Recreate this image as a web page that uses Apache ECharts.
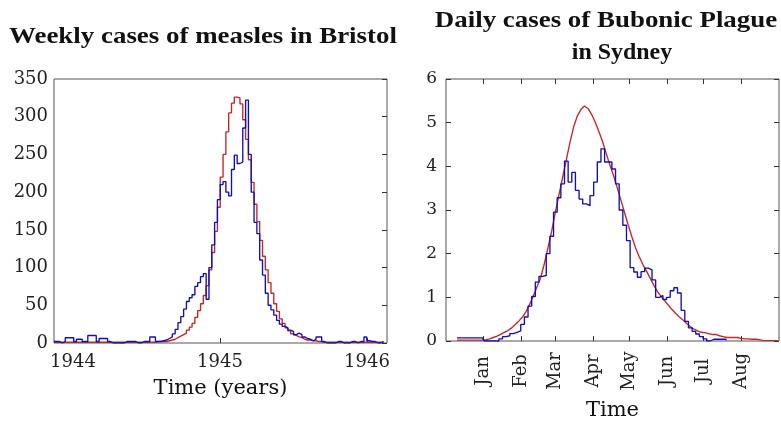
<!DOCTYPE html>
<html><head><meta charset="utf-8">
<script src="https://cdn.jsdelivr.net/npm/echarts@6/dist/echarts.min.js"></script>
<style>html,body{margin:0;padding:0;background:#fff}#c{width:781px;height:426px}</style>
</head><body><div id="c"></div>
<script>
// ---------- Left panel: weekly measles cases, Bristol ----------
const measlesStartYear = 1943.871;
const weekInYears = 7 / 365.25;
const measlesObserved = [
  2,2,0,2,7,7,7,2,5,5, 2,2,10,10,10,2,6,6,6,2, 0,0,0,0,0,2,2,2,2,0, 0,2,2,2,8,8,2,2,3,4,
  6,8,12,18,27,35,45,55,60,64, 75,80,88,92,58,100,130,160,190,210, 214,200,195,230,249,238,240,285,322,250,
  200,160,145,110,90,66,50,44,37,30, 25,22,20,17,15,11,13,11,8,6, 5,3,5,8,8,2,0,0,0,0,
  2,2,0,0,0,2,2,0,2,2, 8,3,2,2,0,0,2,2
];
const measlesModel = [
  1,1,1,1,1,1,1,1,1,1, 1,1,1,1,1,1,1,1,1,1, 1,1,1,1,1,1,1,1,1,1, 1,1,1,1,1,1,2,2,2,2,
  3,4,5,7,9,11,13,17,21,26, 34,43,52,63,76,97,120,148,180,220, 250,280,305,318,326,325,317,296,270,243,
  213,184,161,136,115,97,80,66,52,42, 32,26,20,16,12,10,8,7,5,4, 4,3,3,2,2,1,1,1,1,1,
  1,1,1,1,1,1,1,1,1,1, 1,1,1,1,1,1,1,1
];
const yearTicks = [1944, 1945, 1946];

// ---------- Right panel: daily bubonic plague cases, Sydney ----------
const plagueStartDay = -22;   // days from 1 January
const plagueStepDays = 3;
const plagueObserved = [
  0.07,0.07,0.07,0.07,0.07,0.07,0.07,0.07,0,0,
  0,0,0.05,0.1,0.12,0.17,0.2,0.23,0.38,0.55,
  0.8,1.02,1.35,1.48,1.5,2.0,2.4,2.95,3.28,3.6,
  4.12,3.64,3.86,3.45,3.25,3.14,3.1,3.33,3.64,4.1,
  4.4,4.1,4.1,3.94,3.6,3.0,2.65,2.3,1.68,1.58,
  1.46,1.59,1.67,1.63,1.4,1.0,1.04,0.95,1.0,1.15,
  1.22,1.1,0.7,0.45,0.3,0.22,0.16,0.1,0.05,0,
  0.04,0.04,0.04,0.04,0.03
];
const plagueModel = [
  0.02,0.02,0.02,0.02,0.02,0.02,0.02,0.02,0.03,0.05,
  0.08,0.11,0.15,0.2,0.24,0.3,0.38,0.46,0.55,0.68,
  0.85,1.04,1.25,1.46,1.78,2.15,2.52,2.95,3.35,3.75,
  4.15,4.55,4.9,5.15,5.3,5.38,5.32,5.18,5.0,4.78,
  4.55,4.28,4.02,3.78,3.5,3.22,2.93,2.65,2.38,2.13,
  1.93,1.75,1.6,1.44,1.28,1.13,1.02,0.92,0.82,0.72,
  0.63,0.55,0.48,0.4,0.33,0.27,0.23,0.2,0.19,0.17,
  0.15,0.15,0.12,0.1,0.08,0.08,0.08,0.08,0.06,0.05,
  0.05,0.04,0.04,0.03,0.01,0.01,0.01,0.01,0.01
];
const monthStarts = [0, 31, 59, 90, 120, 151, 181, 212];
const monthNames = ['Jan', 'Feb', 'Mar', 'Apr', 'May', 'Jun', 'Jul', 'Aug'];

// ---------- styles ----------
const TITLE_FONT = '"Liberation Serif", "Times New Roman", serif';
const SERIF = '"DejaVu Serif", "Liberation Serif", serif';
const BLUE = '#1010b8';
const RED = '#c82424';
const FRAME = '#555';
const LW = 1.35;
const TICK = { show: true, inside: true, length: 5, lineStyle: { color: '#333', width: 1 } };
const NOLINE = { show: false, onZero: false };

const chart = echarts.init(document.getElementById('c'), null, { renderer: 'canvas' });

const measlesObsData = measlesObserved.map((v, i) => [measlesStartYear + i * weekInYears, v]);
const measlesModData = measlesModel.map((v, i) => [measlesStartYear + i * weekInYears, v]);
const plagueObsData = plagueObserved.map((v, i) => [plagueStartDay + i * plagueStepDays, v]);
const plagueModData = plagueModel.map((v, i) => [plagueStartDay + i * plagueStepDays, v]);

function titleText(text, x, y, sx) {
  return { type: 'text', x: x, y: y, scaleX: sx, style: { text: text, align: 'center', verticalAlign: 'middle', font: 'bold 23px ' + TITLE_FONT, fill: '#111' } };
}

chart.setOption({
  animation: false,
  backgroundColor: '#fff',
  grid: [
    { left: 54, top: 79, width: 333, height: 264, show: true, borderColor: FRAME, borderWidth: 1, backgroundColor: 'transparent' },
    { left: 446, top: 79, width: 333, height: 264, show: true, borderColor: FRAME, borderWidth: 1, backgroundColor: 'transparent' }
  ],
  graphic: [
    titleText('Weekly cases of measles in Bristol', 203, 37, 1.17),
    titleText('Daily cases of Bubonic Plague', 606, 21, 1.17),
    titleText('in Sydney', 622, 53, 1.04)
  ],
  xAxis: [
    {
      gridIndex: 0, type: 'value', min: 1943.871, max: 1946.136,
      axisLine: NOLINE,
      axisTick: Object.assign({}, TICK, { customValues: yearTicks }),
      axisLabel: { customValues: yearTicks, formatter: v => String(Math.round(v)), fontFamily: SERIF, fontSize: 18, color: '#222', margin: 10 },
      splitLine: { show: false },
      name: 'Time (years)', nameLocation: 'middle', nameGap: 35,
      nameTextStyle: { fontFamily: SERIF, fontSize: 21, color: '#111' }
    },
    {
      gridIndex: 1, type: 'value', min: -31, max: 243,
      axisLine: NOLINE,
      axisTick: Object.assign({}, TICK, { customValues: monthStarts }),
      axisLabel: {
        customValues: monthStarts, rotate: 90, align: 'center', verticalAlign: 'middle', margin: 30,
        formatter: v => monthNames[monthStarts.indexOf(Math.round(v))] || '',
        fontFamily: SERIF, fontSize: 18, color: '#222'
      },
      splitLine: { show: false },
      name: 'Time', nameLocation: 'middle', nameGap: 59,
      nameTextStyle: { fontFamily: SERIF, fontSize: 21, color: '#111' }
    },
    {
      gridIndex: 1, type: 'value', position: 'top', min: -31, max: 243,
      axisLine: NOLINE,
      axisTick: Object.assign({}, TICK, { customValues: monthStarts }),
      axisLabel: { show: false, customValues: monthStarts },
      splitLine: { show: false }
    }
  ],
  yAxis: [
    {
      gridIndex: 0, type: 'value', min: 0, max: 350, interval: 50,
      axisLine: NOLINE, axisTick: { show: false },
      axisLabel: { fontFamily: SERIF, fontSize: 18, color: '#222', margin: 6 },
      splitLine: { show: false }
    },
    {
      gridIndex: 0, type: 'value', position: 'right', min: 0, max: 350, interval: 50,
      axisLine: NOLINE, axisTick: TICK, axisLabel: { show: false }, splitLine: { show: false }
    },
    {
      gridIndex: 1, type: 'value', min: 0, max: 6, interval: 1,
      axisLine: NOLINE, axisTick: TICK,
      axisLabel: { fontFamily: SERIF, fontSize: 17, color: '#222', margin: 9 },
      splitLine: { show: false }
    },
    {
      gridIndex: 1, type: 'value', position: 'right', min: 0, max: 6, interval: 1,
      axisLine: NOLINE, axisTick: TICK, axisLabel: { show: false }, splitLine: { show: false }
    }
  ],
  series: [
    { type: 'line', xAxisIndex: 0, yAxisIndex: 0, step: 'end', showSymbol: false, data: measlesModData, lineStyle: { color: RED, width: LW }, itemStyle: { color: RED } },
    { type: 'line', xAxisIndex: 0, yAxisIndex: 0, step: 'end', showSymbol: false, data: measlesObsData, lineStyle: { color: BLUE, width: LW }, itemStyle: { color: BLUE } },
    { type: 'line', xAxisIndex: 1, yAxisIndex: 2, showSymbol: false, data: plagueModData, lineStyle: { color: RED, width: LW }, itemStyle: { color: RED } },
    { type: 'line', xAxisIndex: 1, yAxisIndex: 2, step: 'middle', showSymbol: false, data: plagueObsData, lineStyle: { color: BLUE, width: LW }, itemStyle: { color: BLUE } }
  ]
});
</script>
</body></html>
